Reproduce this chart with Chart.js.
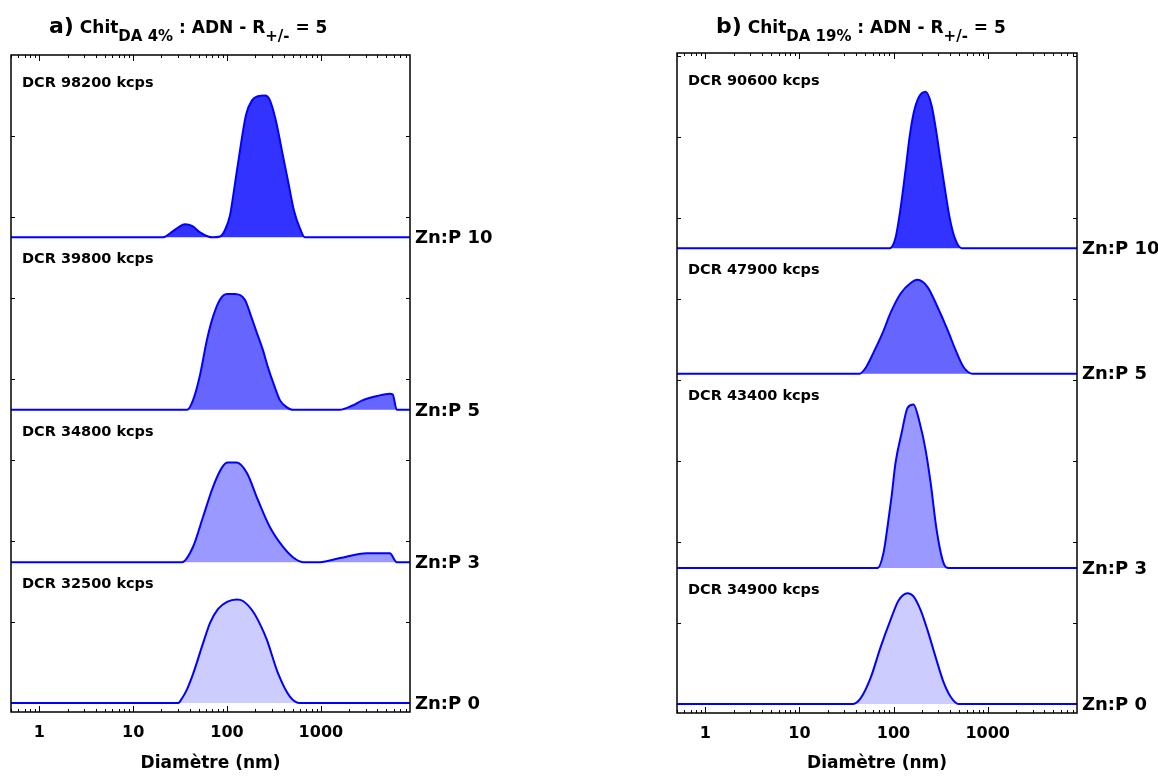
<!DOCTYPE html>
<html>
<head>
<meta charset="utf-8">
<script src="https://cdn.jsdelivr.net/npm/chart.js@4.4.1/dist/chart.umd.min.js"></script>
<style>
  body { margin: 0; background: #fff; width: 1158px; height: 778px; position: relative; overflow: hidden; }
  canvas { position: absolute; top: 0; }
  #chartA { left: 0; }
  #chartB { left: 600px; }
  .ttl { position: absolute; top: 14px; white-space: nowrap; font-family: "DejaVu Sans", sans-serif; font-weight: bold; font-size: 17px; line-height: 24px; color: #000; }
  .ttl .big { font-size: 22px; }
  .ttl sub { font-size: 15px; vertical-align: -8px; line-height: 0; }
</style>
</head>
<body>
<canvas id="chartA" width="600" height="778"></canvas>
<canvas id="chartB" width="558" height="778"></canvas>
<div class="ttl" style="left:49px"><span class="big">a)</span> Chit<sub>DA 4%</sub> : ADN - R<sub>+/-</sub> = 5</div>
<div class="ttl" style="left:716px"><span class="big">b)</span> Chit<sub>DA 19%</sub> : ADN - R<sub>+/-</sub> = 5</div>
<script>
// samples, top to bottom
const names = ["Zn:P 10", "Zn:P 5", "Zn:P 3", "Zn:P 0"];
const dcrA = [98200, 39800, 34800, 32500];
const dcrB = [90600, 47900, 43400, 34900];
const decadeLabels = [1, 10, 100, 1000];

// vertical shift of each curve (intensity %)
const offsetsA = [57.5, 36.2, 17.4, 0];
const offsetsB = [56.3, 40.8, 16.8, 0];

// a) Chit DA 4% : diameter (nm) / intensity (%)
const dA10 = [0.5, 20.9, 24.8, 30.1, 35.7, 42.4, 51.6, 62.8, 71, 84.3, 95.2, 107.6, 118.7, 137.4, 159.3, 184.5, 213.6, 253.6, 286.5, 331.7, 384.5, 445.6, 516.4, 598, 676, 8900];
const iA10 = [0, 0, 0.5, 1.2, 1.6, 1.4, 0.6, 0.1, 0, 0.1, 0.9, 2.7, 5.8, 10.7, 15.1, 16.9, 17.4, 17.5, 16.9, 14.4, 10.7, 7.0, 3.3, 1.1, 0, 0];
const dA5 = [0.5, 37.5, 43.5, 51.6, 61, 71, 84, 100, 121, 155, 180, 208, 241, 272, 316, 366, 424, 504, 1592, 2138, 2800, 3944, 5420, 5830, 6440, 8900];
const iA5 = [0, 0, 1.2, 4.3, 8.6, 11.5, 13.6, 14.3, 14.3, 13.6, 11.6, 9.5, 7.4, 5.3, 3.1, 1.2, 0.4, 0, 0, 0.5, 1.2, 1.7, 2.0, 1.9, 0, 0];
const dA3 = [0.5, 33.2, 43.5, 55.6, 71, 88.6, 102, 127, 163, 213, 287, 394, 504, 644, 975, 1592, 3085, 5420, 6440, 8900];
const iA3 = [0, 0, 1.9, 5.6, 9.3, 11.7, 12.3, 12.3, 11.0, 7.7, 4.3, 1.9, 0.6, 0, 0, 0.5, 1.1, 1.1, 0, 0];
const dA0 = [0.5, 30.1, 33.2, 37.5, 43.5, 55.6, 66, 80, 100, 127, 148, 189, 230, 266, 349, 468, 598, 8900];
const iA0 = [0, 0, 0.6, 1.7, 3.6, 7.4, 9.9, 11.6, 12.5, 12.8, 12.6, 11.3, 9.5, 7.8, 3.7, 0.8, 0, 0];

// b) Chit DA 19%
const dB10 = [0.5, 90.6, 105, 119, 134, 148, 163, 185, 219, 254, 286, 316, 357, 394, 446, 529, 8900];
const iB10 = [0, 0, 1.3, 5.0, 9.6, 13.7, 16.6, 18.6, 19.3, 17.6, 14.2, 10.8, 6.8, 3.8, 1.3, 0, 0];
const dB5 = [0.5, 43.5, 50.4, 61.2, 76.4, 92.9, 119, 152, 180, 230, 294, 375, 457, 556, 692, 8900];
const iB5 = [0, 0, 0.7, 2.6, 5.0, 7.5, 9.9, 11.2, 11.6, 10.7, 8.2, 5.4, 2.9, 0.8, 0, 0];
const dB3 = [0.5, 67.6, 78.3, 86.3, 95.2, 105, 122, 141, 163, 189, 219, 248, 287, 340, 385, 8900];
const iB3 = [0, 0, 1.9, 5.1, 8.8, 13.0, 16.7, 19.8, 20.2, 18.0, 14.6, 10.5, 4.7, 0.6, 0, 0];
const dB0 = [0.5, 36.6, 44.6, 56.9, 72.7, 92.9, 113, 141, 163, 194, 230, 280, 340, 404, 491, 8900];
const iB0 = [0, 0, 0.7, 3.2, 7.0, 10.4, 12.8, 13.7, 13.3, 11.6, 9.1, 5.8, 2.7, 0.9, 0, 0];

const fills = ["#3333ff", "#6666ff", "#9999ff", "#ccccff"];
const FONT = "DejaVu Sans";

// frame, inward ticks and text labels
const framePlugin = {
  id: "frame",
  afterDatasetsDraw(chart, args, opts) {
    const { ctx, chartArea: a, scales: { x, y } } = chart;
    ctx.save();
    ctx.strokeStyle = "#000";
    ctx.lineWidth = 1;
    ctx.beginPath();
    for (let e = -1; e <= 3; e++) {
      for (let m = 1; m <= 9; m++) {
        const v = m * Math.pow(10, e);
        if (v < x.min || v > x.max) continue;
        const px = Math.round(x.getPixelForValue(v)) + 0.5;
        const len = m === 1 ? 6 : 3;
        ctx.moveTo(px, a.bottom); ctx.lineTo(px, a.bottom - len);
        ctx.moveTo(px, a.top); ctx.lineTo(px, a.top + len);
      }
    }
    for (let v = 10; v < y.max; v += 10) {
      const py = Math.round(y.getPixelForValue(v)) + 0.5;
      ctx.moveTo(a.left, py); ctx.lineTo(a.left + 4, py);
      ctx.moveTo(a.right, py); ctx.lineTo(a.right - 4, py);
    }
    ctx.stroke();
    ctx.lineWidth = 1.5;
    ctx.strokeRect(a.left, a.top, a.right - a.left, a.bottom - a.top);

    ctx.fillStyle = "#000";
    ctx.textAlign = "left";
    ctx.font = "bold 14.5px '" + FONT + "'";
    ctx.textBaseline = "alphabetic";
    opts.dcr.forEach((v, i) => {
      const top = i === 0 ? a.top + 6 : y.getPixelForValue(opts.offsets[i - 1]);
      ctx.fillText("DCR " + v + " kcps", a.left + 11, top + 26);
    });
    ctx.font = "bold 18px '" + FONT + "'";
    ctx.textBaseline = "middle";
    opts.names.forEach((n, i) => {
      ctx.fillText(n, a.right + 5, y.getPixelForValue(opts.offsets[i]) + 1);
    });
    ctx.restore();
  }
};

function makeChart(id, diams, ints, offsets, dcr, yMax, pad, axisH) {
  const datasets = names.map((n, k) => ({
    label: n,
    data: diams[k].map((d, i) => ({ x: d, y: offsets[k] + ints[k][i] })),
    borderColor: "#0000ff",
    borderWidth: 2,
    backgroundColor: fills[k],
    fill: { value: offsets[k] },
    pointRadius: 0,
    cubicInterpolationMode: "monotone",
  }));
  return new Chart(document.getElementById(id), {
    type: "line",
    data: { datasets },
    options: {
      responsive: false,
      animation: false,
      layout: { padding: pad },
      plugins: {
        legend: { display: false },
        tooltip: { enabled: false },
        frame: { dcr, names, offsets },
      },
      scales: {
        x: {
          type: "logarithmic",
          min: 0.5,
          max: 8900,
          afterFit: (s) => { s.height = axisH; },
          grid: { display: false, drawTicks: false },
          border: { display: false },
          ticks: {
            autoSkip: false,
            maxRotation: 0,
            padding: 11,
            color: "#000",
            font: { family: FONT, size: 16, weight: "bold" },
            callback: (v) => decadeLabels.includes(Math.round(v * 1000) / 1000) ? String(Math.round(v)) : "",
          },
          title: {
            display: true,
            text: "Diamètre (nm)",
            color: "#000",
            font: { family: FONT, size: 17, weight: "bold" },
            padding: { top: 0, bottom: 4 },
          },
        },
        y: { display: false, min: -1.1, max: yMax },
      },
    },
    plugins: [framePlugin],
  });
}

makeChart("chartA", [dA10, dA5, dA3, dA0], [iA10, iA5, iA3, iA0], offsetsA, dcrA, 80,
  { left: 11, right: 190, top: 55, bottom: 0 }, 66);
makeChart("chartB", [dB10, dB5, dB3, dB0], [iB10, iB5, iB3, iB0], offsetsB, dcrB, 80.4,
  { left: 77, right: 81, top: 53, bottom: 0 }, 65);
</script>
</body>
</html>
